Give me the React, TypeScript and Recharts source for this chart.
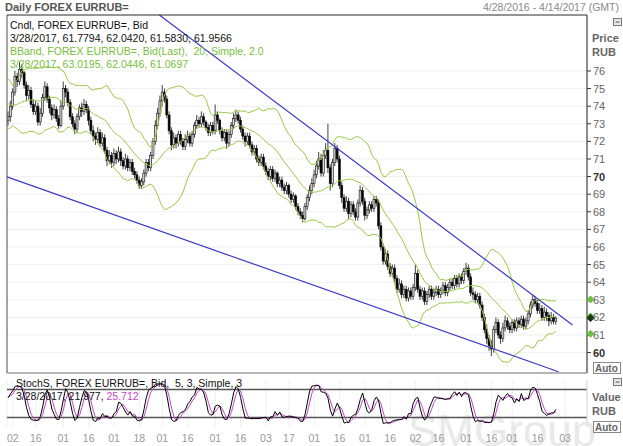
import React from 'react';
import { ComposedChart, Bar, Line, XAxis, YAxis, CartesianGrid, ReferenceLine, ReferenceDot } from 'recharts';

// ---------- data ----------
const START_DATE = '2016-04-28';
const SLOT_COUNT = 252; // weekdays 4/28/2016 .. 4/14/2017

const tickDates = [
  '2016-05-02', '2016-05-16', '2016-06-01', '2016-06-16', '2016-07-01', '2016-07-18',
  '2016-08-01', '2016-08-16', '2016-09-01', '2016-09-16', '2016-10-03', '2016-10-17',
  '2016-11-01', '2016-11-16', '2016-12-01', '2016-12-16', '2017-01-02', '2017-01-16',
  '2017-02-01', '2017-02-16', '2017-03-01', '2017-03-16', '2017-04-03',
];

const priceTicks = [60, 61, 62, 63, 64, 65, 66, 67, 68, 69, 70, 71, 72, 73, 74, 75, 76];
const boldPriceTicks = [60, 70];

// closes of the 20 sessions before the first visible bar (BBand warm-up)
const priorCloses = [75.6, 75.2, 75.8, 75.0, 74.6, 74.9, 74.3, 74.8, 74.0, 73.6,
  74.2, 73.8, 74.5, 73.9, 73.4, 73.7, 73.2, 73.9, 73.5, 73.2];

const firstOpen = 73.2;

const closes = [
  73.4, 74.0, 74.8, 75.7, 75.4, 76.1, 75.9, 75.2, 74.6, 74.9,
  74.1, 73.7, 74.0, 73.1, 73.6, 74.5, 75.1, 74.4, 73.9, 73.5,
  73.8, 73.3, 72.9, 74.0, 75.0, 74.8, 74.2, 73.4, 73.0, 72.7,
  73.4, 73.9, 73.7, 74.1, 73.8, 73.2, 72.6, 72.3, 72.1, 72.5,
  71.9, 72.2, 71.5, 70.9, 71.2, 70.8, 71.3, 71.0, 71.4, 70.9,
  70.6, 71.0, 70.5, 70.8, 70.3, 70.1, 69.8, 69.5, 69.7, 70.2,
  70.8, 70.5, 71.2, 72.0, 72.9, 73.6, 74.3, 74.8, 74.4, 73.5,
  72.6, 71.8, 72.2, 71.9, 72.4, 72.0, 71.7, 72.1, 72.3, 71.9,
  72.4, 72.9, 73.2, 73.0, 73.4, 73.1, 72.8, 72.5, 72.9, 72.6,
  73.5, 73.2, 72.6, 72.2, 72.5, 71.9, 72.4, 72.9, 73.3, 73.5,
  73.2, 72.7, 72.3, 72.0, 72.3, 71.8, 71.4, 71.6, 71.0, 70.8,
  71.1, 70.6, 70.3, 70.0, 70.4, 69.9, 70.2, 69.6, 69.8, 69.4,
  69.2, 69.5, 69.0, 68.7, 68.9, 68.3, 68.0, 67.8, 67.6, 68.3,
  68.8, 69.2, 69.6, 70.1, 70.6, 71.0, 70.2, 71.2, 71.5, 70.5,
  69.6, 70.8, 71.6, 71.0, 69.5, 68.8, 68.2, 68.6, 67.9, 68.4,
  68.0, 67.7, 68.5, 69.2, 68.6, 67.8, 68.1, 68.4, 68.2, 68.7,
  68.5, 67.2, 66.0, 65.2, 65.6, 64.9, 64.5, 64.8, 64.2, 63.6,
  63.9, 63.3, 63.6, 63.1, 63.5, 63.2, 63.7, 64.5, 63.6, 63.2,
  63.5, 62.9, 63.3, 63.6, 63.2, 63.4, 63.6, 63.3, 63.5, 63.8,
  63.4, 63.7, 64.0, 63.8, 64.2, 63.9, 64.3, 64.1, 64.6, 64.8,
  64.3, 63.4, 63.3, 63.0, 63.2, 62.7, 62.0, 61.3, 60.8, 60.4,
  60.2, 61.3, 61.7, 61.0, 60.8, 61.4, 61.8, 61.5, 61.3, 61.7,
  61.4, 61.8, 61.6, 61.9, 61.5, 61.8, 62.2, 62.7, 63.0, 62.8,
  62.4, 62.5, 62.0, 62.3, 62.1, 61.8, 62.0, 61.7794, 61.9566,
];

const highs = [
  73.7, 74.3, 75.0, 76.0, 75.9, 76.5, 76.4, 76.0, 75.4, 75.2,
  75.1, 74.4, 74.3, 74.2, 73.9, 74.7, 75.4, 75.3, 74.6, 74.1,
  74.1, 74.0, 73.5, 74.3, 75.4, 75.2, 75.0, 74.4, 73.6, 73.2,
  73.6, 74.1, 74.2, 74.4, 74.3, 74.0, 73.4, 72.9, 72.5, 72.8,
  72.7, 72.5, 72.4, 71.7, 71.5, 71.4, 71.6, 71.5, 71.7, 71.6,
  71.1, 71.3, 71.2, 71.0, 71.0, 70.5, 70.3, 70.0, 69.9, 70.4,
  71.0, 71.0, 71.4, 72.2, 73.2, 73.9, 74.6, 75.2, 75.0, 74.6,
  73.7, 72.8, 72.5, 72.4, 72.6, 72.6, 72.2, 72.4, 72.6, 72.5,
  72.6, 73.1, 73.5, 73.4, 73.7, 73.6, 73.2, 73.0, 73.1, 73.1,
  74.1, 73.7, 73.3, 72.8, 72.7, 72.7, 72.6, 73.1, 73.6, 73.8,
  73.7, 73.4, 72.9, 72.5, 72.5, 72.5, 72.0, 71.8, 71.8, 71.2,
  71.3, 71.3, 70.8, 70.5, 70.6, 70.6, 70.4, 70.3, 70.0, 70.0,
  69.6, 69.7, 69.6, 69.2, 69.1, 69.0, 68.5, 68.2, 68.0, 68.5,
  69.0, 69.5, 69.9, 70.4, 70.9, 71.4, 71.3, 71.5, 71.9, 73.0,
  70.7, 71.0, 71.9, 71.8, 71.2, 69.7, 69.0, 68.9, 68.8, 68.6,
  68.6, 68.2, 68.7, 69.5, 69.4, 68.8, 68.3, 68.6, 68.6, 68.9,
  68.9, 68.7, 67.4, 66.2, 65.9, 65.8, 65.1, 65.0, 65.0, 64.4,
  64.2, 64.1, 63.8, 63.8, 63.7, 63.7, 63.9, 65.0, 64.7, 63.8,
  63.7, 63.7, 63.5, 63.8, 63.8, 63.6, 63.8, 63.8, 63.7, 64.0,
  64.0, 63.9, 64.2, 64.2, 64.4, 64.4, 64.5, 64.5, 64.8, 65.1,
  65.0, 64.5, 63.7, 63.5, 63.4, 63.4, 62.9, 62.2, 61.6, 61.0,
  60.7, 61.5, 62.0, 61.9, 61.2, 61.7, 62.1, 62.0, 61.7, 61.9,
  61.9, 62.0, 62.0, 62.1, 62.1, 62.0, 62.4, 62.9, 63.3, 63.2,
  63.0, 62.8, 62.7, 62.6, 62.5, 62.3, 62.3, 62.2, 62.042,
];

const lows = [
  72.9, 73.1, 73.8, 74.6, 75.1, 75.2, 75.6, 75.0, 74.3, 74.4,
  73.9, 73.5, 73.5, 72.9, 72.9, 73.4, 74.3, 74.2, 73.6, 73.2,
  73.3, 73.1, 72.7, 72.8, 73.8, 74.5, 74.0, 73.2, 72.8, 72.4,
  72.5, 73.2, 73.4, 73.5, 73.6, 72.9, 72.4, 72.0, 71.8, 71.9,
  71.7, 71.7, 71.3, 70.6, 70.7, 70.5, 70.6, 70.7, 70.8, 70.6,
  70.4, 70.4, 70.3, 70.3, 70.1, 69.9, 69.6, 69.3, 69.3, 69.5,
  70.0, 70.3, 70.3, 71.0, 71.8, 72.7, 73.4, 74.0, 74.2, 73.3,
  72.4, 71.5, 71.6, 71.6, 71.7, 71.8, 71.5, 71.5, 71.9, 71.7,
  71.7, 72.2, 72.7, 72.8, 72.8, 72.9, 72.6, 72.3, 72.3, 72.4,
  72.4, 73.0, 72.4, 72.0, 72.0, 71.6, 71.7, 72.2, 72.7, 73.1,
  73.0, 72.5, 72.1, 71.7, 71.8, 71.6, 71.2, 71.2, 70.8, 70.6,
  70.6, 70.4, 70.1, 69.8, 69.8, 69.7, 69.7, 69.4, 69.4, 69.2,
  69.0, 69.0, 68.8, 68.5, 68.5, 68.1, 67.8, 67.6, 67.4, 67.5,
  68.1, 68.6, 69.0, 69.4, 69.9, 70.4, 70.0, 70.0, 71.0, 70.2,
  69.2, 69.4, 70.6, 70.8, 69.3, 68.5, 68.0, 68.0, 67.6, 67.7,
  67.8, 67.5, 67.5, 68.3, 68.4, 67.5, 67.6, 67.9, 68.0, 68.0,
  68.3, 67.0, 65.8, 65.0, 65.0, 64.7, 64.3, 64.3, 64.0, 63.4,
  63.4, 63.1, 63.1, 62.9, 62.9, 63.0, 63.0, 63.5, 63.4, 63.0,
  63.0, 62.7, 62.7, 63.1, 63.0, 63.0, 63.2, 63.1, 63.1, 63.3,
  63.2, 63.2, 63.5, 63.6, 63.6, 63.7, 63.7, 63.9, 63.9, 64.4,
  64.1, 63.2, 63.0, 62.8, 62.8, 62.5, 61.8, 61.1, 60.5, 60.1,
  59.8, 60.0, 61.1, 60.8, 60.5, 60.6, 61.2, 61.3, 61.1, 61.1,
  61.2, 61.2, 61.4, 61.4, 61.3, 61.3, 61.6, 62.0, 62.5, 62.6,
  62.2, 62.2, 61.8, 61.8, 61.8, 61.5, 61.6, 61.6, 61.583,
];

// drawn trend lines, in (bar index, price) units
const upperTrend = [{ x: 65.7, y: 79.18 }, { x: 245.2, y: 61.57 }];
const lowerTrend = [{ x: -0.5, y: 69.98 }, { x: 239.1, y: 58.91 }];

// legend values shown in the reference
const candleLegend = '3/28/2017, 61.7794, 62.0420, 61.5830, 61.9566';
const bbandLegend = '3/28/2017, 63.0195, 62.0446, 61.0697';
const stochK = '21.977';
const stochD = '25.712';
const lastBB = { upper: 63.0195, mid: 62.0446, lower: 61.0697 };
const lastClose = 61.9566;

const BB_PERIOD = 20;
const BB_MULT = 2;
const K_PERIOD = 5;
const K_SLOW = 3;
const D_PERIOD = 3;

// ---------- build table ----------
const pad = (n: number) => (n < 10 ? '0' + n : '' + n);
const dates: string[] = [];
{
  const d = new Date(START_DATE + 'T00:00:00Z');
  while (dates.length < SLOT_COUNT) {
    const wd = d.getUTCDay();
    if (wd !== 0 && wd !== 6) {
      dates.push(d.getUTCFullYear() + '-' + pad(d.getUTCMonth() + 1) + '-' + pad(d.getUTCDate()));
    }
    d.setUTCDate(d.getUTCDate() + 1);
  }
}
const tickIdx = tickDates.map((t) => dates.indexOf(t));
const tickLabel = (i: number) => {
  const s = dates[Math.round(i)];
  return s ? s.slice(8, 10) : '';
};

const allCloses = [...priorCloses, ...closes];
const rawK: number[] = [];
const slowK: number[] = [];
const rows = closes.map((c, i) => {
  const o = i === 0 ? firstOpen : closes[i - 1];
  const h = Math.max(highs[i], o, c);
  const l = Math.min(lows[i], o, c);
  const j = i + priorCloses.length;
  const win = allCloses.slice(j - BB_PERIOD + 1, j + 1);
  const mean = win.reduce((a, b) => a + b, 0) / win.length;
  const sd = Math.sqrt(win.reduce((a, b) => a + (b - mean) * (b - mean), 0) / win.length);
  return { i, o, h, l, c, bbU: mean + BB_MULT * sd, bbM: mean, bbL: mean - BB_MULT * sd };
});
rows.forEach((r, i) => {
  const s = Math.max(0, i - K_PERIOD + 1);
  let hh = -Infinity, ll = Infinity;
  for (let k = s; k <= i; k++) { hh = Math.max(hh, rows[k].h); ll = Math.min(ll, rows[k].l); }
  rawK.push(hh > ll ? ((r.c - ll) / (hh - ll)) * 100 : 50);
});
rows.forEach((r: any, i) => {
  const s = Math.max(0, i - K_SLOW + 1);
  const arr = rawK.slice(s, i + 1);
  slowK.push(arr.reduce((a, b) => a + b, 0) / arr.length);
  r.k = slowK[i];
});
rows.forEach((r: any, i) => {
  const s = Math.max(0, i - D_PERIOD + 1);
  const arr = slowK.slice(s, i + 1);
  r.d = arr.reduce((a, b) => a + b, 0) / arr.length;
});

// ---------- layout ----------
const W = 623;
const MAIN_H = 378;
const PLOT_L = 7;
const PLOT_T = 15;
const PLOT_R = 587;
const PLOT_B = 373;
const AXIS_W = W - PLOT_R;
const X_DOMAIN: [number, number] = [-0.5, SLOT_COUNT - 0.5];
const FONT = "'Liberation Sans', Arial, sans-serif";
const BB_COLOR = '#9ac844';
const TXT_GREEN = '#78c03c';
const TREND = '#3b3bc8';
const D_COLOR = '#c048c8';

const Candle = (props: any) => {
  const { x, y, width, height, payload } = props;
  if (!payload || payload.c == null) return null;
  const { o, h, l, c } = payload;
  const top = Math.min(y, y + height);
  const bot = Math.max(y, y + height);
  const cx = x + width / 2;
  const span = h - l;
  const pix = (v: number) => (span > 0 ? top + ((h - v) / span) * (bot - top) : top);
  const yo = pix(o);
  const yc = pix(c);
  const bt = Math.min(yo, yc);
  const bb = Math.max(yo, yc);
  const up = c >= o;
  return (
    <g>
      <line x1={cx} x2={cx} y1={top} y2={bot} stroke="#111" strokeWidth={0.8} />
      <rect x={cx - 1} y={bt} width={2} height={Math.max(bb - bt, 0.8)}
        fill={up ? '#d8d8d8' : '#000000'} stroke="#111" strokeWidth={0.6} />
    </g>
  );
};

const PriceTick = (props: any) => {
  const { x, y, payload } = props;
  const bold = boldPriceTicks.includes(payload.value);
  return (
    <text x={x} y={y + 4} fontSize={11} fontFamily={FONT} textAnchor="start"
      fill={bold ? '#333' : '#666'} fontWeight={bold ? 'bold' : 'normal'}>
      {payload.value}
    </text>
  );
};

const diamond = (color: string) => (p: any) => (
  <path d={`M${p.cx + 3.5},${p.cy - 3.5} l3.5,3.5 l-3.5,3.5 l-3.5,-3.5 z`} fill={color} stroke={color} />
);

export default function App() {
  return (
    <div style={{ position: 'absolute', left: 0, top: 0, width: W, height: 446, background: '#fff', overflow: 'hidden', fontFamily: FONT }}>
      <svg width={W} height={446} style={{ position: 'absolute', left: 0, top: 0 }}>
        <text x={408} y={446} fontSize={44} fontFamily={FONT} fill="#e9e9e9">SMGroup</text>
      </svg>

      <div style={{ position: 'absolute', left: 0, top: 0 }}>
        <ComposedChart width={W} height={MAIN_H} data={rows}
          margin={{ top: PLOT_T, right: 0, left: PLOT_L, bottom: MAIN_H - PLOT_B }}>
          <CartesianGrid stroke="#efefef" strokeWidth={1} />
          <XAxis type="number" dataKey="i" domain={X_DOMAIN} ticks={tickIdx} allowDataOverflow
            height={0} tick={false} tickLine={false} axisLine={false} />
          <YAxis orientation="right" width={AXIS_W} domain={[58.84, 79.18]} ticks={priceTicks}
            interval={0} allowDataOverflow tickSize={4} tickMargin={2} tick={<PriceTick />}
            axisLine={{ stroke: '#222' }} tickLine={{ stroke: '#333' }} />
          <Line dataKey="bbU" stroke={BB_COLOR} strokeWidth={1} dot={false} isAnimationActive={false} />
          <Line dataKey="bbM" stroke={BB_COLOR} strokeWidth={1} dot={false} isAnimationActive={false} />
          <Line dataKey="bbL" stroke={BB_COLOR} strokeWidth={1} dot={false} isAnimationActive={false} />
          <Bar dataKey={(r: any) => [r.l, r.h]} barSize={2} shape={<Candle />} isAnimationActive={false} />
          <ReferenceLine segment={upperTrend} stroke={TREND} strokeWidth={1.2} ifOverflow="visible" />
          <ReferenceLine segment={lowerTrend} stroke={TREND} strokeWidth={1.2} ifOverflow="visible" />
          <ReferenceDot x={X_DOMAIN[1]} y={lastBB.upper} ifOverflow="visible" shape={diamond('#6cc040')} />
          <ReferenceDot x={X_DOMAIN[1]} y={lastBB.mid} ifOverflow="visible" shape={diamond('#4f9a2a')} />
          <ReferenceDot x={X_DOMAIN[1]} y={lastClose} ifOverflow="visible" shape={diamond('#1a3a10')} />
          <ReferenceDot x={X_DOMAIN[1]} y={lastBB.lower} ifOverflow="visible" shape={diamond('#6cc040')} />
        </ComposedChart>
      </div>

      <div style={{ position: 'absolute', left: 0, top: PLOT_B }}>
        <ComposedChart width={W} height={446 - PLOT_B} data={rows}
          margin={{ top: 7, right: 0, left: PLOT_L, bottom: 0 }}>
          <CartesianGrid stroke="#f0f0f0" horizontal={false} />
          <XAxis type="number" dataKey="i" domain={X_DOMAIN} ticks={tickIdx} allowDataOverflow
            height={19} tickFormatter={tickLabel} tickLine={false} axisLine={false}
            tick={{ fontSize: 10.5, fill: '#999', fontFamily: FONT }} interval={0} />
          <YAxis orientation="right" width={AXIS_W} domain={[0, 100]} allowDataOverflow
            tick={false} tickLine={false} axisLine={{ stroke: '#d8d8d8' }} />
          <ReferenceLine y={80} stroke="#555" strokeWidth={1.5} />
          <ReferenceLine y={20} stroke="#555" strokeWidth={1.5} />
          <Line dataKey="d" stroke={D_COLOR} strokeWidth={1} dot={false} isAnimationActive={false} />
          <Line dataKey="k" stroke="#000" strokeWidth={1} dot={false} isAnimationActive={false} />
        </ComposedChart>
      </div>

      <svg width={W} height={446} style={{ position: 'absolute', left: 0, top: 0, pointerEvents: 'none' }} fontFamily={FONT}>
        {/* frame */}
        <line x1={PLOT_L} y1={PLOT_T} x2={PLOT_R} y2={PLOT_T} stroke="#333" />
        <line x1={PLOT_L} y1={PLOT_T} x2={PLOT_L} y2={PLOT_B} stroke="#555" />
        <line x1={PLOT_L} y1={PLOT_B} x2={PLOT_R} y2={PLOT_B} stroke="#777" />
        {/* header */}
        <text x={5} y={11} fontSize={11} fontWeight="bold" fill="#555">Daily FOREX EURRUB=</text>
        <text x={483} y={11} fontSize={10.5} fill="#8a8a8a">4/28/2016 - 4/14/2017 (GMT)</text>
        {/* legends */}
        <text x={10} y={29} fontSize={10.5} fill="#111">Cndl, FOREX EURRUB=, Bid</text>
        <text x={10} y={42} fontSize={10.5} fill="#111">{candleLegend}</text>
        <text x={10} y={55} fontSize={10.5} fill={TXT_GREEN} xmlSpace="preserve">BBand, FOREX EURRUB=, Bid(Last),  20, Simple, 2.0</text>
        <text x={10} y={68} fontSize={10.5} fill={TXT_GREEN}>{bbandLegend}</text>
        <text x={16} y={387} fontSize={10.5} fill="#111" xmlSpace="preserve">StochS, FOREX EURRUB=, Bid,  5, 3, Simple, 3</text>
        <text x={16} y={400} fontSize={10.5} fill="#111">
          3/28/2017, {stochK}, <tspan fill={D_COLOR}>{stochD}</tspan>
        </text>
        {/* right side labels */}
        <rect x={613.5} y={18.5} width={8} height={7} fill="#e8e8e8" stroke="#777" />
        <line x1={615.5} y1={22} x2={619.5} y2={22} stroke="#555" />
        <text x={592} y={42} fontSize={11} fontWeight="bold" fill="#666">Price</text>
        <text x={592} y={56} fontSize={11} fontWeight="bold" fill="#666">RUB</text>
        <rect x={593.5} y={362.5} width={27} height={11} fill="#fff" stroke="#888" />
        <text x={595} y={371.5} fontSize={10} fontWeight="bold" fill="#666">Auto</text>
        <rect x={613.5} y={378.5} width={8} height={7} fill="#e8e8e8" stroke="#777" />
        <line x1={615.5} y1={382} x2={619.5} y2={382} stroke="#555" />
        <text x={592} y={401} fontSize={11} fontWeight="bold" fill="#666">Value</text>
        <text x={592} y={415} fontSize={11} fontWeight="bold" fill="#666">RUB</text>
        <rect x={593.5} y={421.5} width={27} height={11} fill="#fff" stroke="#888" />
        <text x={595} y={430.5} fontSize={10} fontWeight="bold" fill="#666">Auto</text>
      </svg>
    </div>
  );
}
